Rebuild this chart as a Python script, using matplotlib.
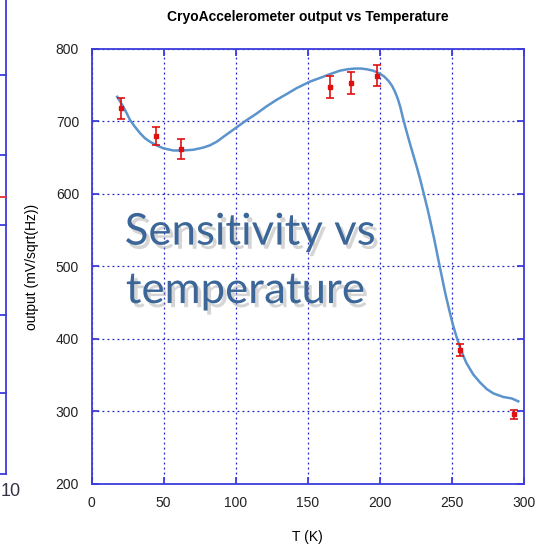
import numpy as np
import matplotlib
matplotlib.use("Agg")
import matplotlib.pyplot as plt
import matplotlib.patheffects as pe
from matplotlib.lines import Line2D

# measured points with error bars
temp_pts = [20.5, 44.9, 62.3, 165.6, 180.0, 198.2, 255.8, 293.3]
out_pts = [718, 680, 662, 748, 753, 763, 385, 296]
out_err = [14, 13, 13.5, 15, 15, 14.5, 8.5, 6]

# fitted curve
curve_t = [17.8, 20.0, 22.1, 24.5, 26.7, 30.0, 33.6, 37.0, 40.6, 45.2, 49.8,
           56.7, 63.7, 70.6, 77.5, 82.0, 86.8, 93.0, 100.0, 107.0, 114.6,
           121.5, 128.5, 135.5, 142.3, 151.5, 158.4, 165.0, 172.2, 177.5,
           182.7, 187.0, 190.9, 195.5, 200.0, 203.0, 206.0, 208.5, 210.5,
           212.5, 214.3, 216.0, 218.0, 220.5, 223.0, 225.5, 228.0, 230.5,
           233.0, 235.5, 238.0, 240.5, 243.0, 245.5, 248.0, 250.5, 253.0,
           255.0, 257.0, 260.0, 264.8, 269.5, 274.1, 278.7, 285.6, 291.4, 296.0]
curve_out = [734, 727, 720, 711, 702, 693, 684, 677, 672, 667, 663,
             660, 660, 661, 664, 667, 672, 681, 691, 701, 711,
             721, 730, 738, 746, 755, 760, 765, 770, 772,
             773, 773, 772, 770, 766, 762, 756, 749, 741,
             731, 719, 705, 690, 672, 655, 638, 620, 600,
             580, 558, 535, 510, 486, 462, 441, 421, 404,
             392, 381, 367, 351, 340, 331, 325, 320, 318, 314]

x_ticks = [0, 50, 100, 150, 200, 250, 300]
y_ticks = [200, 300, 400, 500, 600, 700, 800]

axis_blue = "#3c3cdc"
grid_blue = "#2020c8"

fig = plt.figure(figsize=(5.47, 5.46), dpi=100)
ax = fig.add_axes([0.1673, 0.1136, 0.7907, 0.7967])

ax.plot(curve_t, curve_out, color="#5b93cc", lw=1.8, zorder=3,
        solid_joinstyle="round")
ax.errorbar(temp_pts, out_pts, yerr=out_err, fmt="s", ms=2.5, color="#e01010",
            ecolor="#e01010", elinewidth=1.2, capsize=3, capthick=1.2, zorder=4)

ax.set_xlim(0, 300)
ax.set_ylim(200, 800)
ax.set_xticks(x_ticks)
ax.set_yticks(y_ticks)
ax.grid(True, color=grid_blue, linestyle=(0, (1.5, 2.5)), lw=0.9)
for s in ax.spines.values():
    s.set_color(axis_blue)
    s.set_linewidth(1.3)
ax.tick_params(direction="in", length=5, width=1.3, color=axis_blue,
               top=True, right=True, labelsize=10, labelcolor="#222222", pad=9)
for lab in ax.get_xticklabels() + ax.get_yticklabels():
    lab.set_family("Liberation Sans")

ax.set_title("CryoAccelerometer output vs Temperature", fontsize=10,
             fontweight="bold", family="Liberation Sans", pad=20)
ax.set_xlabel("T (K)", fontsize=10, family="Liberation Sans", labelpad=14)
ax.set_ylabel("output (mV/sqrt(Hz))", fontsize=10, family="Liberation Sans",
              labelpad=12)

# overlay caption
shadow = [pe.SimplePatchShadow(offset=(2.5, -3), shadow_rgbFace="#888888", alpha=0.35),
          pe.Normal()]
fig.text(0.228, 0.552, "Sensitivity vs", fontsize=31.5, color="#3b6697",
         family="Lato", path_effects=shadow, va="baseline")
fig.text(0.230, 0.445, "temperature", fontsize=31.5, color="#3b6697",
         family="Lato", path_effects=shadow, va="baseline")

# edge of a neighbouring chart on the left
fig.add_artist(Line2D([6 / 547, 6 / 547], [1, 1 - 474 / 546], color=axis_blue,
                      lw=1.3, transform=fig.transFigure))
for yp, c in [(75, axis_blue), (155, axis_blue), (197, "#e03030"), (225, axis_blue),
              (315, axis_blue), (393, axis_blue), (474, axis_blue)]:
    fig.add_artist(Line2D([0, 6 / 547], [1 - yp / 546] * 2, color=c, lw=1.3,
                          transform=fig.transFigure))
fig.text(0.001, 1 - 492 / 546, "10", fontsize=13, color="#333344",
         family="Liberation Sans", va="center")

fig.savefig("out.png", dpi=100)
